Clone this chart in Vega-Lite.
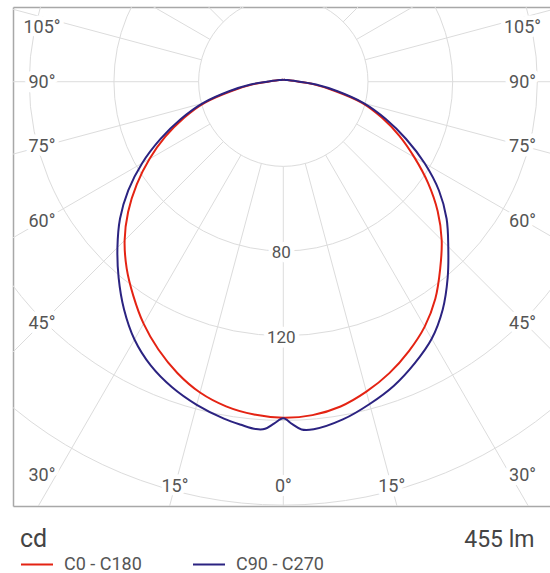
{
  "$schema": "https://vega.github.io/schema/vega-lite/v6.json",
  "width": 537,
  "height": 499,
  "autosize": {"type": "none"},
  "padding": {"left": 13, "top": 7, "right": 0, "bottom": 67},
  "background": "white",
  "config": {
    "view": {"stroke": null},
    "font": "Roboto"
  },
  "datasets": {
    "spokes": [
      {"a": 0}, {"a": 15}, {"a": 30}, {"a": 45}, {"a": 60}, {"a": 75}, {"a": 90}, {"a": 105},
      {"a": 120}, {"a": 135}, {"a": 150}, {"a": 165}, {"a": 180}, {"a": 195}, {"a": 210}, {"a": 225},
      {"a": 240}, {"a": 255}, {"a": 270}, {"a": 285}, {"a": 300}, {"a": 315}, {"a": 330}, {"a": 345}
    ],
    "rings": [{"v": 40}, {"v": 80}, {"v": 120}, {"v": 160}, {"v": 200}, {"v": 240}],
    "ringLabels": [{"v": 80, "t": "80"}, {"v": 120, "t": "120"}],
    "angleLabels": [
      {"a": 0, "t": "0°"},
      {"a": 15, "t": "15°"}, {"a": -15, "t": "15°"},
      {"a": 30, "t": "30°"}, {"a": -30, "t": "30°"},
      {"a": 45, "t": "45°"}, {"a": -45, "t": "45°"},
      {"a": 60, "t": "60°"}, {"a": -60, "t": "60°"},
      {"a": 75, "t": "75°"}, {"a": -75, "t": "75°"},
      {"a": 90, "t": "90°"}, {"a": -90, "t": "90°"},
      {"a": 105, "t": "105°"}, {"a": -105, "t": "105°"}
    ],
    "curves": [
      {"s": "C0 - C180", "a": -180, "v": 0.8},
      {"s": "C0 - C180", "a": -150, "v": 1},
      {"s": "C0 - C180", "a": -120, "v": 1.6},
      {"s": "C0 - C180", "a": -105, "v": 2.8},
      {"s": "C0 - C180", "a": -95, "v": 4.8},
      {"s": "C0 - C180", "a": -90, "v": 7.2},
      {"s": "C0 - C180", "a": -85, "v": 14.5},
      {"s": "C0 - C180", "a": -80, "v": 24.5},
      {"s": "C0 - C180", "a": -75, "v": 38.5},
      {"s": "C0 - C180", "a": -70, "v": 50},
      {"s": "C0 - C180", "a": -65, "v": 61.5},
      {"s": "C0 - C180", "a": -60, "v": 73},
      {"s": "C0 - C180", "a": -55, "v": 84.5},
      {"s": "C0 - C180", "a": -50, "v": 95.7},
      {"s": "C0 - C180", "a": -45, "v": 106},
      {"s": "C0 - C180", "a": -40, "v": 115.1},
      {"s": "C0 - C180", "a": -35, "v": 123.5},
      {"s": "C0 - C180", "a": -30, "v": 132},
      {"s": "C0 - C180", "a": -25, "v": 139.6},
      {"s": "C0 - C180", "a": -20, "v": 146.4},
      {"s": "C0 - C180", "a": -15, "v": 152},
      {"s": "C0 - C180", "a": -10, "v": 155.7},
      {"s": "C0 - C180", "a": -5, "v": 157.8},
      {"s": "C0 - C180", "a": 0, "v": 158.7},
      {"s": "C0 - C180", "a": 5, "v": 158.1},
      {"s": "C0 - C180", "a": 10, "v": 155.8},
      {"s": "C0 - C180", "a": 15, "v": 151.6},
      {"s": "C0 - C180", "a": 20, "v": 146.5},
      {"s": "C0 - C180", "a": 25, "v": 140.4},
      {"s": "C0 - C180", "a": 30, "v": 133.6},
      {"s": "C0 - C180", "a": 35, "v": 125.2},
      {"s": "C0 - C180", "a": 40, "v": 115.3},
      {"s": "C0 - C180", "a": 45, "v": 105.8},
      {"s": "C0 - C180", "a": 50, "v": 95.2},
      {"s": "C0 - C180", "a": 55, "v": 83.5},
      {"s": "C0 - C180", "a": 60, "v": 71.5},
      {"s": "C0 - C180", "a": 65, "v": 60.5},
      {"s": "C0 - C180", "a": 70, "v": 49.5},
      {"s": "C0 - C180", "a": 75, "v": 38.5},
      {"s": "C0 - C180", "a": 80, "v": 24.5},
      {"s": "C0 - C180", "a": 85, "v": 14.5},
      {"s": "C0 - C180", "a": 90, "v": 7.2},
      {"s": "C0 - C180", "a": 95, "v": 4.8},
      {"s": "C0 - C180", "a": 105, "v": 2.8},
      {"s": "C0 - C180", "a": 120, "v": 1.6},
      {"s": "C0 - C180", "a": 150, "v": 1},
      {"s": "C0 - C180", "a": 180, "v": 0.8},
      {"s": "C90 - C270", "a": -180, "v": 0.8},
      {"s": "C90 - C270", "a": -150, "v": 1},
      {"s": "C90 - C270", "a": -120, "v": 1.6},
      {"s": "C90 - C270", "a": -105, "v": 2.8},
      {"s": "C90 - C270", "a": -95, "v": 5},
      {"s": "C90 - C270", "a": -90, "v": 7.8},
      {"s": "C90 - C270", "a": -85, "v": 15.5},
      {"s": "C90 - C270", "a": -80, "v": 26},
      {"s": "C90 - C270", "a": -75, "v": 39.5},
      {"s": "C90 - C270", "a": -70, "v": 51.5},
      {"s": "C90 - C270", "a": -65, "v": 64},
      {"s": "C90 - C270", "a": -60, "v": 77},
      {"s": "C90 - C270", "a": -55, "v": 89.4},
      {"s": "C90 - C270", "a": -50, "v": 100.7},
      {"s": "C90 - C270", "a": -45, "v": 110.8},
      {"s": "C90 - C270", "a": -40, "v": 121},
      {"s": "C90 - C270", "a": -35, "v": 131.2},
      {"s": "C90 - C270", "a": -30, "v": 140.6},
      {"s": "C90 - C270", "a": -25, "v": 148},
      {"s": "C90 - C270", "a": -20, "v": 153.6},
      {"s": "C90 - C270", "a": -15, "v": 158},
      {"s": "C90 - C270", "a": -10, "v": 161.6},
      {"s": "C90 - C270", "a": -7, "v": 163.3},
      {"s": "C90 - C270", "a": -4.5, "v": 164.6},
      {"s": "C90 - C270", "a": -3, "v": 164.2},
      {"s": "C90 - C270", "a": -1.5, "v": 161.5},
      {"s": "C90 - C270", "a": 0, "v": 159},
      {"s": "C90 - C270", "a": 1.5, "v": 161.8},
      {"s": "C90 - C270", "a": 3, "v": 164.5},
      {"s": "C90 - C270", "a": 5, "v": 164.8},
      {"s": "C90 - C270", "a": 10, "v": 162},
      {"s": "C90 - C270", "a": 15, "v": 157.6},
      {"s": "C90 - C270", "a": 20, "v": 152.8},
      {"s": "C90 - C270", "a": 25, "v": 146.8},
      {"s": "C90 - C270", "a": 30, "v": 140.2},
      {"s": "C90 - C270", "a": 35, "v": 131.3},
      {"s": "C90 - C270", "a": 40, "v": 120.8},
      {"s": "C90 - C270", "a": 45, "v": 110.2},
      {"s": "C90 - C270", "a": 50, "v": 100.7},
      {"s": "C90 - C270", "a": 55, "v": 89.8},
      {"s": "C90 - C270", "a": 60, "v": 77.1},
      {"s": "C90 - C270", "a": 65, "v": 64},
      {"s": "C90 - C270", "a": 70, "v": 51.5},
      {"s": "C90 - C270", "a": 75, "v": 39.5},
      {"s": "C90 - C270", "a": 80, "v": 26},
      {"s": "C90 - C270", "a": 85, "v": 15.5},
      {"s": "C90 - C270", "a": 90, "v": 7.8},
      {"s": "C90 - C270", "a": 95, "v": 5},
      {"s": "C90 - C270", "a": 105, "v": 2.8},
      {"s": "C90 - C270", "a": 120, "v": 1.6},
      {"s": "C90 - C270", "a": 150, "v": 1},
      {"s": "C90 - C270", "a": 180, "v": 0.8}
    ]
  },
  "encoding": {
    "x": {
      "field": "x", "type": "quantitative",
      "scale": {"domain": [-127.68, 125.98], "nice": false, "zero": false},
      "axis": {
        "domain": false, "ticks": false, "labels": false,
        "grid": true, "values": [-127.68], "gridColor": "#a8a8a8", "gridWidth": 1.5, "gridOpacity": 1,
        "title": "455 lm", "titleFontSize": 23, "titleFontWeight": "normal",
        "titleColor": "#444444", "titleFont": "Roboto",
        "titleX": 521, "titleY": 40, "titleAlign": "right", "titleBaseline": "alphabetic"
      }
    },
    "y": {
      "field": "y", "type": "quantitative",
      "scale": {"domain": [-200.43, 35.29], "nice": false, "zero": false},
      "axis": {
        "domain": false, "ticks": false, "labels": false, "title": null,
        "grid": true, "values": [-200.43, 35.29], "gridColor": "#a8a8a8", "gridWidth": 1.5, "gridOpacity": 1
      }
    }
  },
  "layer": [
    {
      "data": {"name": "spokes"},
      "transform": [
        {"calculate": "datum.a * PI / 180", "as": "rad"},
        {"calculate": "40 * sin(datum.rad)", "as": "x"},
        {"calculate": "-40 * cos(datum.rad)", "as": "y"},
        {"calculate": "400 * sin(datum.rad)", "as": "xe"},
        {"calculate": "-400 * cos(datum.rad)", "as": "ye"}
      ],
      "mark": {"type": "rule", "clip": true, "stroke": "#dcdcdc", "strokeWidth": 1},
      "encoding": {"x2": {"field": "xe"}, "y2": {"field": "ye"}}
    },
    {
      "data": {"name": "rings"},
      "transform": [
        {"calculate": "0", "as": "x"},
        {"calculate": "0", "as": "y"}
      ],
      "mark": {"type": "point", "shape": "circle", "filled": false, "clip": true, "stroke": "#dcdcdc", "strokeWidth": 1, "opacity": 1},
      "encoding": {
        "size": {"field": "v", "type": "quantitative", "scale": {"type": "pow", "exponent": 2, "domain": [0, 240], "range": [0, 1032581]}, "legend": null}
      }
    },
    {
      "data": {"name": "ringLabels"},
      "transform": [
        {"calculate": "0", "as": "x"},
        {"calculate": "-datum.v", "as": "y"}
      ],
      "mark": {"type": "text", "fontSize": 17, "font": "Roboto", "align": "center", "baseline": "middle", "dy": 2, "dx": -2, "fill": "white", "stroke": "white", "strokeWidth": 9, "strokeJoin": "round"},
      "encoding": {"text": {"field": "t"}}
    },
    {
      "data": {"name": "ringLabels"},
      "transform": [
        {"calculate": "0", "as": "x"},
        {"calculate": "-datum.v", "as": "y"}
      ],
      "mark": {"type": "text", "fontSize": 17, "font": "Roboto", "align": "center", "baseline": "middle", "dy": 2, "dx": -2, "fill": "#555555"},
      "encoding": {"text": {"field": "t"}}
    },
    {
      "data": {"name": "angleLabels"},
      "transform": [
        {"calculate": "datum.a * PI / 180", "as": "rad"},
        {"calculate": "sin(datum.rad)", "as": "sn"},
        {"calculate": "cos(datum.rad)", "as": "cs"},
        {"calculate": "abs(datum.sn) >= 0.4 ? (datum.sn > 0 ? 113 : -114) : 191 * datum.sn / datum.cs", "as": "x"},
        {"calculate": "abs(datum.sn) >= 0.4 ? clamp(-114 * datum.cs / abs(datum.sn), -186, 26) : -191", "as": "y"}
      ],
      "mark": {"type": "text", "fontSize": 18, "font": "Roboto", "align": "center", "baseline": "middle", "dy": 1, "fill": "white", "stroke": "white", "strokeWidth": 9, "strokeJoin": "round"},
      "encoding": {"text": {"field": "t"}}
    },
    {
      "data": {"name": "angleLabels"},
      "transform": [
        {"calculate": "datum.a * PI / 180", "as": "rad"},
        {"calculate": "sin(datum.rad)", "as": "sn"},
        {"calculate": "cos(datum.rad)", "as": "cs"},
        {"calculate": "abs(datum.sn) >= 0.4 ? (datum.sn > 0 ? 113 : -114) : 191 * datum.sn / datum.cs", "as": "x"},
        {"calculate": "abs(datum.sn) >= 0.4 ? clamp(-114 * datum.cs / abs(datum.sn), -186, 26) : -191", "as": "y"}
      ],
      "mark": {"type": "text", "fontSize": 18, "font": "Roboto", "align": "center", "baseline": "middle", "dy": 1, "fill": "#555555"},
      "encoding": {"text": {"field": "t"}}
    },
    {
      "data": {"name": "curves"},
      "transform": [
        {"calculate": "datum.a * PI / 180", "as": "rad"},
        {"calculate": "datum.v * sin(datum.rad)", "as": "x"},
        {"calculate": "-datum.v * cos(datum.rad)", "as": "y"}
      ],
      "mark": {"type": "line", "strokeWidth": 2, "clip": false, "interpolate": "catmull-rom"},
      "encoding": {
        "order": {"field": "a", "type": "quantitative"},
        "color": {
          "field": "s", "type": "nominal",
          "scale": {"domain": ["C0 - C180", "C90 - C270"], "range": ["#e42313", "#2b2381"]},
          "legend": {
            "orient": "none", "legendX": 7, "legendY": 519.5, "direction": "horizontal",
            "title": "\u2009cd", "titleFontSize": 25, "titleFontWeight": "normal", "titleColor": "#444444",
            "titleFont": "Roboto", "titlePadding": 2,
            "symbolType": "stroke", "symbolSize": 1024, "symbolStrokeWidth": 2,
            "clipHeight": 22,
            "labelFontSize": 18, "labelColor": "#555555", "labelFont": "Roboto",
            "labelOffset": 10, "columnPadding": 50, "padding": 0
          }
        }
      }
    }
  ]
}
